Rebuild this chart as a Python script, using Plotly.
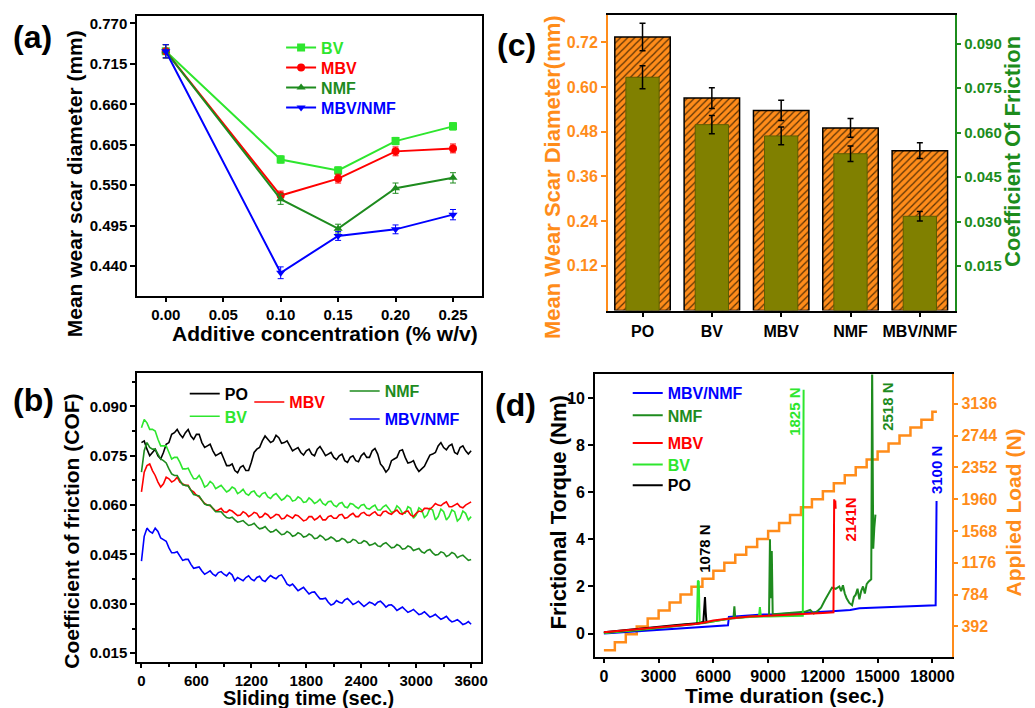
import plotly.graph_objects as go

FONT = "Liberation Sans, Arial, sans-serif"
W, H = 1035, 708

# ---------------- (a) wear scar diameter vs concentration ----------------
conc = [0.00, 0.10, 0.15, 0.20, 0.25]
wsd_bv = [0.732, 0.585, 0.570, 0.610, 0.630]
wsd_mbv = [0.732, 0.536, 0.559, 0.596, 0.600]
wsd_nmf = [0.732, 0.531, 0.491, 0.546, 0.560]
wsd_mbvnmf = [0.732, 0.431, 0.481, 0.490, 0.510]
err_bv = [0.009, 0.005, 0.005, 0.005, 0.005]
err_mbv = [0.009, 0.006, 0.006, 0.006, 0.006]
err_nmf = [0.009, 0.007, 0.006, 0.007, 0.007]
err_mbvnmf = [0.009, 0.008, 0.006, 0.006, 0.007]
a_yticks = [0.440, 0.495, 0.550, 0.605, 0.660, 0.715, 0.770]
a_xticks = [0.00, 0.05, 0.10, 0.15, 0.20, 0.25]

# ---------------- (b) COF vs sliding time (values read every 60 s, plus the 30 s points between) ----------------
t_b = list(range(0, 3601, 30))
cof_po_a = [0.079, 0.077, 0.076, 0.075, 0.076, 0.079, 0.082, 0.0815, 0.082, 0.081,
            0.0815, 0.079, 0.078, 0.0765, 0.0755, 0.074, 0.072, 0.0705, 0.0715, 0.0705,
            0.073, 0.077, 0.0795, 0.080, 0.0795, 0.0805, 0.079, 0.078, 0.077, 0.076,
            0.0765, 0.0755, 0.077, 0.0765, 0.0755, 0.0745, 0.075, 0.0735, 0.0745, 0.0735,
            0.075, 0.0745, 0.0765, 0.0755, 0.0715, 0.071, 0.074, 0.0765, 0.0745, 0.073,
            0.0715, 0.071, 0.0735, 0.0755, 0.078, 0.0775, 0.078, 0.076, 0.0775, 0.0765,
            0.0765]
cof_po_b = [0.0795, 0.0750, 0.0770, 0.0740, 0.0785, 0.0815, 0.0830, 0.0805, 0.0830, 0.0800,
            0.0815, 0.0775, 0.0785, 0.0750, 0.0760, 0.0720, 0.0725, 0.0698, 0.0720, 0.0705,
            0.0760, 0.0775, 0.0810, 0.0790, 0.0812, 0.0788, 0.0795, 0.0765, 0.0775, 0.0752,
            0.0770, 0.0750, 0.0778, 0.0750, 0.0760, 0.0738, 0.0755, 0.0730, 0.0750, 0.0732,
            0.0758, 0.0745, 0.0772, 0.0725, 0.0700, 0.0735, 0.0745, 0.0768, 0.0728, 0.0735,
            0.0702, 0.0718, 0.0752, 0.0760, 0.0790, 0.0768, 0.0785, 0.0755, 0.0780, 0.0755]
cof_bv_a = [0.0835, 0.085, 0.083, 0.080, 0.078, 0.076, 0.0745, 0.073, 0.071, 0.0695,
            0.068, 0.0675, 0.066, 0.0665, 0.0655, 0.065, 0.0645, 0.065, 0.064, 0.0635,
            0.064, 0.063, 0.0635, 0.0625, 0.063, 0.0625, 0.062, 0.0625, 0.0615, 0.062,
            0.061, 0.0615, 0.061, 0.0605, 0.061, 0.060, 0.0605, 0.0595, 0.0605, 0.0595,
            0.060, 0.059, 0.0595, 0.0585, 0.0595, 0.059, 0.058, 0.059, 0.0575, 0.059,
            0.057, 0.0585, 0.057, 0.0585, 0.0565, 0.058, 0.0565, 0.058, 0.056, 0.0575,
            0.0565]
cof_bv_b = [0.0860, 0.0830, 0.0825, 0.0780, 0.0780, 0.0740, 0.0745, 0.0710, 0.0712, 0.0680,
            0.0690, 0.0655, 0.0672, 0.0650, 0.0660, 0.0640, 0.0655, 0.0635, 0.0648, 0.0630,
            0.0643, 0.0625, 0.0638, 0.0620, 0.0635, 0.0615, 0.0630, 0.0612, 0.0625, 0.0608,
            0.0622, 0.0605, 0.0618, 0.0600, 0.0612, 0.0595, 0.0608, 0.0592, 0.0603, 0.0590,
            0.0602, 0.0588, 0.0600, 0.0585, 0.0600, 0.0578, 0.0598, 0.0575, 0.0595, 0.0560,
            0.0592, 0.0562, 0.0590, 0.0555, 0.0588, 0.0555, 0.0585, 0.0552, 0.0582, 0.0555]
cof_mbv_a = [0.064, 0.072, 0.0705, 0.067, 0.0665, 0.068, 0.0675, 0.067, 0.066, 0.0645,
             0.063, 0.0615, 0.060, 0.059, 0.0585, 0.058, 0.0585, 0.0575, 0.057, 0.0575,
             0.057, 0.0575, 0.0565, 0.057, 0.0565, 0.057, 0.056, 0.0565, 0.057, 0.056,
             0.0555, 0.0565, 0.056, 0.0555, 0.0565, 0.056, 0.057, 0.056, 0.057, 0.0565,
             0.0575, 0.057, 0.0575, 0.057, 0.058, 0.0575, 0.058, 0.0575, 0.058, 0.057,
             0.0575, 0.058, 0.059, 0.0595, 0.060, 0.0605, 0.0595, 0.060, 0.0595, 0.060,
             0.061]
cof_mbv_b = [0.0700, 0.0725, 0.0690, 0.0655, 0.0685, 0.0670, 0.0685, 0.0665, 0.0660, 0.0640,
             0.0625, 0.0605, 0.0598, 0.0582, 0.0590, 0.0578, 0.0582, 0.0568, 0.0580, 0.0565,
             0.0578, 0.0562, 0.0575, 0.0560, 0.0572, 0.0558, 0.0570, 0.0560, 0.0568, 0.0552,
             0.0565, 0.0555, 0.0568, 0.0555, 0.0568, 0.0560, 0.0572, 0.0562, 0.0575, 0.0565,
             0.0578, 0.0568, 0.0580, 0.0568, 0.0582, 0.0572, 0.0585, 0.0572, 0.0582, 0.0565,
             0.0582, 0.0590, 0.0588, 0.0605, 0.0598, 0.0610, 0.0595, 0.0605, 0.0592, 0.0605]
cof_nmf_a = [0.070, 0.079, 0.077, 0.0755, 0.0735, 0.071, 0.069, 0.0675, 0.066, 0.0645,
             0.063, 0.0615, 0.060, 0.059, 0.058, 0.057, 0.056, 0.0555, 0.055, 0.0545,
             0.054, 0.0535, 0.053, 0.0525, 0.052, 0.0518, 0.0512, 0.0515, 0.0508, 0.0512,
             0.0505, 0.0508, 0.050, 0.0503, 0.0497, 0.0498, 0.0492, 0.0495, 0.0488, 0.0493,
             0.0485, 0.0488, 0.048, 0.0476, 0.0482, 0.0478, 0.0472, 0.0476, 0.0468, 0.0472,
             0.0465, 0.0458, 0.0462, 0.0455, 0.045, 0.0455, 0.0448, 0.0452, 0.0445, 0.044,
             0.0435]
cof_nmf_b = [0.0765, 0.0775, 0.0770, 0.0740, 0.0728, 0.0695, 0.0690, 0.0662, 0.0658, 0.0632,
             0.0628, 0.0603, 0.0600, 0.0580, 0.0580, 0.0562, 0.0563, 0.0548, 0.0553, 0.0538,
             0.0545, 0.0528, 0.0535, 0.0518, 0.0526, 0.0510, 0.0520, 0.0505, 0.0516, 0.0503,
             0.0512, 0.0498, 0.0508, 0.0494, 0.0503, 0.0490, 0.0499, 0.0486, 0.0496, 0.0484,
             0.0492, 0.0478, 0.0485, 0.0474, 0.0486, 0.0470, 0.0480, 0.0466, 0.0476, 0.0462,
             0.0468, 0.0454, 0.0465, 0.0448, 0.0458, 0.0444, 0.0456, 0.0440, 0.0448, 0.0432]
cof_mn_a = [0.043, 0.053, 0.0515, 0.052, 0.0495, 0.047, 0.0455, 0.0445, 0.0435, 0.042,
            0.041, 0.040, 0.0395, 0.039, 0.0395, 0.039, 0.0395, 0.037, 0.0375, 0.038,
            0.0375, 0.038, 0.0372, 0.0378, 0.038, 0.0385, 0.0375, 0.0355, 0.035, 0.0345,
            0.034, 0.0335, 0.0325, 0.0315, 0.0305, 0.030, 0.0305, 0.0312, 0.0308, 0.0302,
            0.030, 0.0298, 0.0302, 0.0305, 0.030, 0.0296, 0.029, 0.0285, 0.0282, 0.0278,
            0.0275, 0.027, 0.0268, 0.0263, 0.026, 0.0257, 0.0252, 0.0248, 0.0245, 0.024,
            0.0238]
cof_mn_b = [0.0505, 0.0520, 0.0530, 0.0500, 0.0490, 0.0455, 0.0458, 0.0432, 0.0435, 0.0408,
            0.0412, 0.0390, 0.0400, 0.0385, 0.0398, 0.0385, 0.0388, 0.0380, 0.0370, 0.0385,
            0.0370, 0.0384, 0.0368, 0.0386, 0.0376, 0.0388, 0.0360, 0.0360, 0.0340, 0.0350,
            0.0330, 0.0336, 0.0315, 0.0317, 0.0296, 0.0310, 0.0302, 0.0316, 0.0298, 0.0308,
            0.0292, 0.0305, 0.0296, 0.0308, 0.0290, 0.0297, 0.0280, 0.0290, 0.0274, 0.0283,
            0.0267, 0.0276, 0.0260, 0.0268, 0.0253, 0.0262, 0.0245, 0.0252, 0.0237, 0.0246]
b_yticks = [0.015, 0.030, 0.045, 0.060, 0.075, 0.090]

# ---------------- (c) bars ----------------
cats = ["PO", "BV", "MBV", "NMF", "MBV/NMF"]
wsd_bar = [0.734, 0.570, 0.537, 0.490, 0.429]
wsd_bar_err = [0.037, 0.028, 0.027, 0.025, 0.021]
cof_bar = [0.0787, 0.0627, 0.0589, 0.0529, 0.0318]
cof_bar_err = [0.0039, 0.0031, 0.0030, 0.0026, 0.0016]
c_lticks = [0.12, 0.24, 0.36, 0.48, 0.60, 0.72]
c_rticks = [0.015, 0.030, 0.045, 0.060, 0.075, 0.090]

# ---------------- (d) torque & load ----------------
t_po = [0, 1000, 2000, 3000, 4000, 4800, 5300, 5450, 5500, 5540, 5580, 5620]
tq_po = [0.05, 0.12, 0.20, 0.28, 0.36, 0.42, 0.45, 0.50, 1.20, 1.55, 0.90, 0.50]
t_bv = [0, 1500, 3000, 4500, 5100, 5150, 5200, 5250, 5300, 6000, 7000, 8000, 8500,
        8550, 8600, 9000, 10000, 10900, 10945]
tq_bv = [0.02, 0.12, 0.25, 0.38, 0.42, 2.25, 2.20, 0.45, 0.47, 0.52, 0.65, 0.70, 0.72,
         1.12, 0.72, 0.72, 0.72, 0.75, 10.35]
t_mbv = [0, 1000, 2000, 3000, 4000, 5000, 5500, 6000, 7000, 8000, 9000, 10000, 11000,
         12000, 12580, 12620, 12650, 12680, 12700]
tq_mbv = [0.05, 0.12, 0.20, 0.27, 0.34, 0.40, 0.47, 0.55, 0.65, 0.72, 0.75, 0.78, 0.82,
          0.87, 0.90, 5.70, 5.50, 5.65, 5.30]
t_nmf = [0, 2000, 4000, 5500, 6500, 7100, 7150, 7200, 8000, 9050, 9100, 9150, 9200,
         9250, 9300, 10000, 10500, 11000, 11300, 11500, 11700, 11900, 12100, 12300,
         12500, 12700, 12900, 13000, 13100, 13200, 13300, 13450, 13600, 13700, 13800,
         13900, 14000, 14100, 14200, 14300, 14400, 14500, 14600, 14650, 14700, 14720,
         14760, 14820, 14880]
tq_nmf = [0.02, 0.15, 0.32, 0.45, 0.58, 0.65, 1.15, 0.65, 0.72, 0.75, 4.00, 1.50, 3.50,
          0.85, 0.82, 0.85, 0.90, 0.92, 1.00, 0.85, 0.95, 1.10, 1.40, 1.65, 1.95, 1.90,
          2.00, 1.80, 2.05, 1.70, 1.50, 1.30, 1.20, 1.55, 1.65, 1.90, 1.45, 1.80, 2.00,
          1.70, 2.10, 2.20, 2.25, 2.30, 11.5, 4.40, 3.60, 4.50, 5.05]
t_mn = [0, 2000, 4000, 6000, 6800, 6850, 7500, 8500, 9500, 10500, 11500, 12500, 13000,
        13500, 14000, 15000, 16000, 17000, 18000, 18180, 18230]
tq_mn = [0.00, 0.10, 0.20, 0.30, 0.35, 0.70, 0.75, 0.80, 0.82, 0.85, 0.90, 0.95, 0.97,
         1.00, 1.07, 1.10, 1.12, 1.15, 1.17, 1.20, 5.63]
t_load = [0, 600, 1200, 1800, 2400, 3000, 3600, 4200, 4800, 5400, 6000, 6600, 7200,
          7800, 8400, 9000, 9600, 10200, 10800, 11400, 12000, 12600, 13200, 13800,
          14400, 15000, 15600, 16200, 16800, 17400, 18000, 18250]
load = [98, 196, 294, 392, 490, 588, 686, 784, 882, 980, 1078, 1176, 1274, 1372, 1470,
        1568, 1666, 1764, 1862, 1960, 2058, 2156, 2254, 2352, 2450, 2548, 2646, 2744,
        2842, 2940, 3038, 3038]
d_xticks = [0, 3000, 6000, 9000, 12000, 15000, 18000]
d_load_ticks = [392, 784, 1176, 1568, 1960, 2352, 2744, 3136]
fail_labels = ["1078 N", "1825 N", "2141N", "2518 N", "3100 N"]

BLACK = "#000000"
LGREEN = "#2EE62E"
RED = "#FF0000"
DGREEN = "#1E8B1E"
BLUE = "#0000FF"
ORANGE = "#FF8C1A"
AXGREEN = "#1C8C1C"
OLIVE = "#808000"


def px(x):
    return x / W


def py(y):
    return 1 - y / H


def tf(color="black", size=15):
    return dict(family=FONT, size=size, weight="bold", color=color)


def interleave(a, b):
    out = []
    for i, v in enumerate(a):
        out.append(v)
        if i < len(b):
            out.append(b[i])
    return out


fig = go.Figure()

# (a)
a_series = [("BV", wsd_bv, err_bv, LGREEN, "square", "legend"),
            ("MBV", wsd_mbv, err_mbv, RED, "circle", "legend2"),
            ("NMF", wsd_nmf, err_nmf, DGREEN, "triangle-up", "legend3"),
            ("MBV/NMF", wsd_mbvnmf, err_mbvnmf, BLUE, "triangle-down", "legend4")]
for name, vals, err, col, sym, lg in a_series:
    fig.add_trace(go.Scatter(
        x=conc, y=vals, name=name, mode="lines+markers", xaxis="x", yaxis="y",
        line=dict(color=col, width=2), marker=dict(symbol=sym, size=8, color=col),
        error_y=dict(type="data", array=err, color=col, thickness=1, width=3),
        legend=lg))

# (b)
b_series = [("PO", cof_po_a, cof_po_b, BLACK, "legend5"),
            ("BV", cof_bv_a, cof_bv_b, LGREEN, "legend6"),
            ("MBV", cof_mbv_a, cof_mbv_b, RED, "legend7"),
            ("NMF", cof_nmf_a, cof_nmf_b, DGREEN, "legend8"),
            ("MBV/NMF", cof_mn_a, cof_mn_b, BLUE, "legend9")]
for name, va, vb, col, lg in b_series:
    fig.add_trace(go.Scatter(x=t_b, y=interleave(va, vb), name=name, mode="lines",
                             xaxis="x2", yaxis="y2", line=dict(color=col, width=1.6),
                             legend=lg))

# (c)
fig.add_trace(go.Bar(
    x=cats, y=wsd_bar, xaxis="x3", yaxis="y3", width=0.8, showlegend=False,
    marker=dict(color=ORANGE, line=dict(color="black", width=1.5),
                pattern=dict(shape="/", fillmode="replace", bgcolor=ORANGE,
                             fgcolor="#5a3205", size=5, solidity=0.25)),
    error_y=dict(type="data", array=wsd_bar_err, color="black", thickness=1.5, width=3)))
fig.add_trace(go.Bar(
    x=cats, y=cof_bar, xaxis="x3", yaxis="y4", width=0.48, showlegend=False,
    marker=dict(color=OLIVE, line=dict(color="#5e5e00", width=1)),
    error_y=dict(type="data", array=cof_bar_err, color="black", thickness=1.5, width=3)))

# (d) load on base axis, torque on overlay
fig.add_trace(go.Scatter(x=t_load, y=load, mode="lines", line_shape="hv", xaxis="x4",
                         yaxis="y5", line=dict(color=ORANGE, width=2.5), showlegend=False))
d_series = [("MBV/NMF", t_mn, tq_mn, BLUE, "legend10"),
            ("NMF", t_nmf, tq_nmf, DGREEN, "legend11"),
            ("BV", t_bv, tq_bv, LGREEN, "legend13"),
            ("PO", t_po, tq_po, BLACK, "legend14"),
            ("MBV", t_mbv, tq_mbv, RED, "legend12")]
for name, tt, vv, col, lg in d_series:
    fig.add_trace(go.Scatter(x=tt, y=vv, name=name, mode="lines", xaxis="x4", yaxis="y6",
                             line=dict(color=col, width=2), legend=lg))

base = dict(showline=True, linecolor="black", linewidth=1.5, ticks="outside", ticklen=5,
            tickwidth=1.5, tickcolor="black", showgrid=False, zeroline=False, tickfont=tf())

layout = dict(
    width=W, height=H, margin=dict(l=0, r=0, t=0, b=0),
    paper_bgcolor="white", plot_bgcolor="white", barmode="overlay",
    xaxis=dict(base, domain=[px(138), px(485)], anchor="y", range=[-0.025, 0.275],
               tickvals=a_xticks, tickformat=".2f", mirror=True),
    yaxis=dict(base, domain=[py(295), py(15)], anchor="x", range=[0.400, 0.780],
               tickvals=a_yticks, tickformat=".3f", mirror=True),
    xaxis2=dict(base, domain=[px(138), px(484)], anchor="y2", range=[-48, 3705],
                tick0=0, dtick=600, mirror=True, ticklen=4,
                minor=dict(ticks="outside", ticklen=3, tickcolor="black", dtick=300, tick0=0)),
    yaxis2=dict(base, domain=[py(662), py(373)], anchor="x2", range=[0.0123, 0.100],
                tickvals=b_yticks, tickformat=".3f", mirror=True,
                minor=dict(ticks="outside", ticklen=3, tickcolor="black", dtick=0.0075,
                           tick0=0.0075)),
    xaxis3=dict(base, domain=[px(612), px(961)], anchor="y3", type="category",
                range=[-0.5, 4.5], mirror=True, tickfont=tf(size=16)),
    yaxis3=dict(base, domain=[py(310), py(14)], anchor="x3", range=[0, 0.793],
                tickvals=c_lticks, tickformat=".2f", linecolor=ORANGE, tickcolor=ORANGE,
                tickfont=tf(ORANGE, 16)),
    yaxis4=dict(base, overlaying="y3", side="right", anchor="x3", range=[0, 0.0997],
                tickvals=c_rticks, tickformat=".3f", linecolor=AXGREEN, tickcolor=AXGREEN,
                tickfont=tf(AXGREEN, 15)),
    xaxis4=dict(base, domain=[px(599), px(958)], anchor="y5", range=[-490, 19050],
                tickvals=d_xticks, ticktext=[str(v) for v in d_xticks], mirror=True,
                ticklen=4, tickfont=tf(size=16)),
    yaxis5=dict(base, domain=[py(657), py(374)], anchor="x4", side="right",
                range=[14, 3497], tickvals=d_load_ticks, linecolor=ORANGE,
                tickcolor=ORANGE, tickfont=tf(ORANGE, 16)),
    yaxis6=dict(base, overlaying="y5", side="left", anchor="x4", range=[-1.0, 11.0],
                tickvals=[0, 2, 4, 6, 8, 10], tickfont=tf(size=16)),
)


def leg(xl, yc, color, size=16):
    return dict(x=px(xl), y=py(yc), xanchor="left", yanchor="middle",
                bgcolor="rgba(0,0,0,0)", borderwidth=0, font=tf(color, size))


layout["legend"] = leg(283, 46.7, LGREEN)
layout["legend2"] = leg(283, 66.7, RED)
layout["legend3"] = leg(283, 86.7, DGREEN)
layout["legend4"] = leg(283, 106.7, BLUE)
layout["legend5"] = leg(186, 393.3, BLACK)
layout["legend6"] = leg(186, 416, LGREEN)
layout["legend7"] = leg(251, 401.7, RED)
layout["legend8"] = leg(347, 390.7, DGREEN)
layout["legend9"] = leg(347, 418.7, BLUE)
layout["legend10"] = leg(632, 392.7, BLUE)
layout["legend11"] = leg(632, 415, DGREEN)
layout["legend12"] = leg(632, 442.7, RED)
layout["legend13"] = leg(632, 464.3, LGREEN)
layout["legend14"] = leg(632, 485, BLACK)

ann = []
for lab, x, y in [("(a)", 33, 36), ("(b)", 34, 400), ("(c)", 520, 44), ("(d)", 519, 405)]:
    ann.append(dict(text=lab, x=px(x), y=py(y), xref="paper", yref="paper", showarrow=False,
                    xanchor="center", yanchor="middle", font=tf("black", 32)))
titles = [("Mean wear scar diameter (mm)", 75, 183, -90, BLACK, 21),
          ("Additive concentration (% w/v)", 327, 333, 0, BLACK, 21),
          ("Coefficient of friction (COF)", 72, 531, -90, BLACK, 21),
          ("Sliding time (sec.)", 311, 698, 0, BLACK, 20),
          ("Mean Wear Scar Diameter(mm)", 557, 176, -90, ORANGE, 22),
          ("Coefficient Of Friction", 1020, 151, -90, AXGREEN, 22),
          ("Frictional Torque (Nm)", 562, 512, -90, BLACK, 22),
          ("Time duration (sec.)", 790, 695, 0, BLACK, 21),
          ("Applied Load (N)", 1020, 512, -90, ORANGE, 21)]
for text, x, y, ang, col, sz in titles:
    ann.append(dict(text=text, x=px(x), y=py(y), xref="paper", yref="paper", showarrow=False,
                    textangle=ang, xanchor="center", yanchor="middle", font=tf(col, sz)))
fl_pos = [(5540, 3.6, BLACK), (10400, 9.4, LGREEN), (13490, 4.84, RED),
          (15560, 9.62, DGREEN), (18240, 6.93, BLUE)]
for text, (x, y, col) in zip(fail_labels, fl_pos):
    ann.append(dict(text=text, x=x, y=y, xref="x4", yref="y6", showarrow=False,
                    textangle=-90, xanchor="center", yanchor="middle", font=tf(col, 15)))
layout["annotations"] = ann

fig.update_layout(layout)
fig.write_html("out.html")
